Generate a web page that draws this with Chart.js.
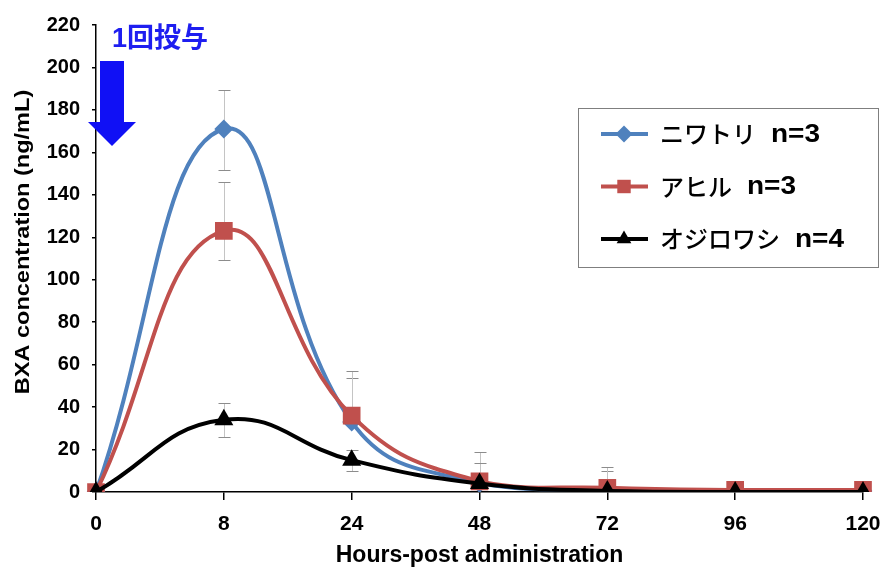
<!DOCTYPE html>
<html>
<head>
<meta charset="utf-8">
<script src="https://cdn.jsdelivr.net/npm/chart.js@4/dist/chart.umd.min.js"></script>
<style>
  html, body { margin: 0; padding: 0; background: #fff; }
  #wrap { width: 883px; height: 569px; }
</style>
</head>
<body>
<div id="wrap"><canvas id="c" width="883" height="569"></canvas></div>
<script>
// Sampling times (hours after a single dose)
const hours = ['0', '8', '24', '48', '72', '96', '120'];

// Mean plasma BXA concentration (ng/mL)
const chicken = [0, 171, 33, 4, 1, 0.5, 0.5];
const duck    = [0, 123, 36, 5, 2, 1, 1];
const eagle   = [0, 34, 15, 4, 0.5, 0, 0];

// Error bar extents above / below the mean
const chickenUp   = [0, 18.5, 20.5, 15, 9, 0, 0];
const chickenDown = [0, 19.5, 0, 0, 0, 0, 0];
const duckUp      = [0, 23, 21, 8.5, 10, 0, 0];
const duckDown    = [0, 13.5, 0, 0, 0, 0, 0];
const eagleUp     = [0, 8, 5, 0, 0, 0, 0];
const eagleDown   = [0, 8, 5, 0, 0, 0, 0];

const seriesLabels = ['ニワトリ n=3', 'アヒル n=3', 'オジロワシ n=4'];
const yTicks = [0, 20, 40, 60, 80, 100, 120, 140, 160, 180, 200, 220];
const yTitle = 'BXA concentration (ng/mL)';
const xTitle = 'Hours-post administration';
const doseLabel = '1回投与';

const FONT = '"Liberation Sans", Arial, "Noto Sans CJK JP", sans-serif';
const JP_FONT = '"Noto Sans CJK JP", sans-serif';

// Grey whiskers drawn beneath the curves
const errorBars = {
  id: 'errorBars',
  beforeDatasetsDraw(chart) {
    const { ctx, scales: { x, y } } = chart;
    ctx.save();
    ctx.lineWidth = 1;
    chart.data.datasets.forEach(ds => {
      ds.values.forEach((v, i) => {
        const up = ds.errUp[i], down = ds.errDown[i];
        if (!up && !down) return;
        const px = Math.round(x.getPixelForValue(i)) + 0.5;
        const top = Math.round(y.getPixelForValue(v + up)) + 0.5;
        const bot = Math.round(y.getPixelForValue(v - down)) + 0.5;
        ctx.strokeStyle = '#c4c4c4';
        ctx.beginPath();
        ctx.moveTo(px, top); ctx.lineTo(px, bot);
        ctx.stroke();
        ctx.strokeStyle = '#8c8c8c';
        ctx.beginPath();
        if (up) { ctx.moveTo(px - 6, top); ctx.lineTo(px + 6, top); }
        if (down) { ctx.moveTo(px - 6, bot); ctx.lineTo(px + 6, bot); }
        ctx.stroke();
      });
    });
    ctx.restore();
  }
};

// Y axis title, dosing arrow and its caption
const annotations = {
  id: 'annotations',
  afterDraw(chart) {
    const { ctx, chartArea: a } = chart;
    ctx.save();
    // y axis title, slightly widened lettering
    ctx.translate(23, 242);
    ctx.rotate(-Math.PI / 2);
    ctx.scale(1.12, 1);
    ctx.font = 'bold 21px ' + FONT;
    ctx.fillStyle = '#000';
    ctx.textAlign = 'center';
    ctx.textBaseline = 'middle';
    ctx.fillText(yTitle, 0, 0);
    ctx.restore();

    const cx = a.left + 16;
    ctx.save();
    ctx.fillStyle = '#1010f5';
    ctx.beginPath();
    ctx.moveTo(cx - 12, a.top + 36);
    ctx.lineTo(cx + 12, a.top + 36);
    ctx.lineTo(cx + 12, a.top + 97);
    ctx.lineTo(cx + 24, a.top + 97);
    ctx.lineTo(cx, a.top + 121);
    ctx.lineTo(cx - 24, a.top + 97);
    ctx.lineTo(cx - 12, a.top + 97);
    ctx.closePath();
    ctx.fill();
    ctx.font = 'bold 27px ' + FONT;
    ctx.textBaseline = 'middle';
    ctx.textAlign = 'left';
    ctx.fillStyle = '#1e1ef0';
    ctx.fillText(doseLabel, a.left + 16, a.top + 15);
    ctx.restore();
  }
};

// Boxed legend inside the plot area
const boxLegend = {
  id: 'boxLegend',
  afterDraw(chart) {
    const { ctx } = chart;
    const bx = 578, by = 108, bw = 300, bh = 159;
    ctx.save();
    ctx.fillStyle = '#fff';
    ctx.fillRect(bx, by, bw, bh);
    ctx.strokeStyle = '#7f7f7f';
    ctx.lineWidth = 1;
    ctx.strokeRect(bx + 0.5, by + 0.5, bw, bh);
    chart.data.datasets.forEach((ds, i) => {
      const yy = by + 26 + i * 52.5;
      ctx.strokeStyle = ds.borderColor;
      ctx.lineWidth = 4;
      ctx.beginPath();
      ctx.moveTo(bx + 23, yy); ctx.lineTo(bx + 70, yy);
      ctx.stroke();
      ctx.fillStyle = ds.pointBackgroundColor;
      ctx.strokeStyle = ds.pointBorderColor;
      Chart.helpers.drawPoint(ctx, {
        pointStyle: ds.pointStyle, radius: ds.legendRadius, rotation: 0, borderWidth: 0
      }, bx + 46, yy);
      const parts = ds.label.split(' ');
      ctx.fillStyle = '#000';
      ctx.textBaseline = 'middle';
      ctx.textAlign = 'left';
      ctx.font = '500 24px ' + JP_FONT;
      ctx.fillText(parts[0], bx + 82, yy);
      const w = ctx.measureText(parts[0]).width;
      ctx.save();
      ctx.translate(bx + 82 + w + 15, yy + 1);
      ctx.scale(1.12, 1);
      ctx.font = 'bold 25px ' + FONT;
      ctx.fillText(parts[1], 0, 0);
      ctx.restore();
    });
    ctx.restore();
  }
};

function series(label, values, up, down, color, style, radius, legendRadius, order) {
  return {
    label, data: values, values, errUp: up, errDown: down,
    borderColor: color, backgroundColor: color,
    pointBackgroundColor: color, pointBorderColor: color,
    pointStyle: style, pointRadius: radius, pointBorderWidth: 0,
    legendRadius, borderWidth: 4, tension: 0.45, order
  };
}

new Chart(document.getElementById('c'), {
  type: 'line',
  data: {
    labels: hours,
    datasets: [
      series(seriesLabels[0], chicken, chickenUp, chickenDown, '#4f81bd', 'rectRot', 9.5, 8.5, 3),
      series(seriesLabels[1], duck, duckUp, duckDown, '#c0504d', 'rect', 12.5, 9.5, 2),
      series(seriesLabels[2], eagle, eagleUp, eagleDown, '#000000', 'triangle', 11, 8.5, 1)
    ]
  },
  options: {
    responsive: false,
    animation: false,
    layout: { padding: { top: 25, right: 0, bottom: 0, left: 0 } },
    plugins: { legend: { display: false }, tooltip: { enabled: false } },
    scales: {
      x: {
        offset: false,
        grid: { display: true, drawOnChartArea: false, drawTicks: true, tickLength: 8, color: '#000', lineWidth: 1.5 },
        border: { display: true, color: '#000', width: 1.5 },
        ticks: { color: '#000', font: { family: FONT, size: 21, weight: 'bold' }, padding: 12, maxRotation: 0 },
        title: { display: true, text: xTitle, color: '#000',
                 font: { family: FONT, size: 23, weight: 'bold' }, padding: { top: 0, bottom: 0 } },
        afterFit(s) { s.height = 77; s.paddingRight = 20; s.paddingLeft = 0; }
      },
      y: {
        min: 0, max: 220,
        afterBuildTicks(s) { s.ticks = yTicks.map(v => ({ value: v })); },
        grid: { display: true, drawOnChartArea: false, drawTicks: true, tickLength: 4, color: '#000', lineWidth: 1.5 },
        border: { display: true, color: '#000', width: 1.5 },
        ticks: { color: '#000', font: { family: FONT, size: 20, weight: 'bold' }, padding: 12 },
        title: { display: false, text: yTitle },
        afterFit(s) { s.width = 96; }
      }
    }
  },
  plugins: [errorBars, annotations, boxLegend]
});
</script>
</body>
</html>
